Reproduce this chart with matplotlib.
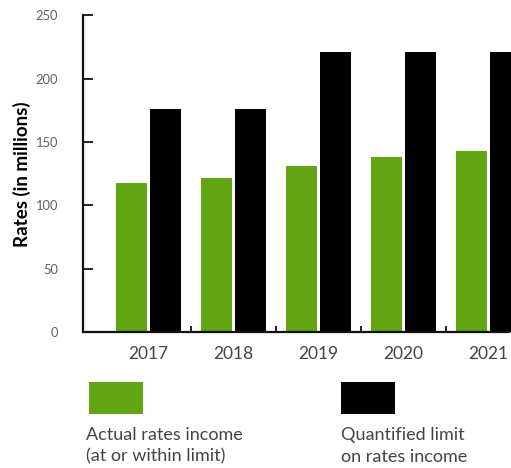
import matplotlib
matplotlib.use("Agg")
import matplotlib.pyplot as plt
from matplotlib.patches import Rectangle
import numpy as np

years = ["2017", "2018", "2019", "2020", "2021"]
actual = [118, 122, 131, 138, 143]
limit = [176, 176, 221, 221, 221]
series_labels = ["Actual rates income\n(at or within limit)", "Quantified limit\non rates income"]
yticks = [0, 50, 100, 150, 200, 250]

GREEN = "#62A512"
BLACK = "#000000"
GREY = "#606060"

plt.rcParams['font.family'] = ['Lato', 'DejaVu Sans']

W, H = 511, 468
fig = plt.figure(figsize=(W / 100, H / 100), dpi=100)
ax = fig.add_axes([83 / W, (H - 332) / H, 426 / W, 316.5 / H])

x = np.arange(len(years))
bw = 0.365
ax.bar(x - 0.2, actual, bw, color=GREEN, clip_on=False)
ax.bar(x + 0.2, limit, bw, color=BLACK, clip_on=False)

ax.set_xlim(-0.77, 4.242)
ax.set_ylim(0, 250)

for s in ["top", "right"]:
    ax.spines[s].set_visible(False)
for s in ["left", "bottom"]:
    ax.spines[s].set_linewidth(1.6)
    ax.spines[s].set_color("#111111")

ax.set_yticks(yticks)
ax.set_yticklabels([str(v) for v in yticks])
ax.tick_params(axis="y", direction="in", length=7, width=1.3, pad=18,
               labelsize=9.3, labelcolor=GREY, colors="#111111")
for t in ax.get_yticklabels():
    t.set_color(GREY)

ax.set_xticks(x)
ax.set_xticklabels(years)
ax.set_xticks(np.arange(0.5, 4, 1), minor=True)
ax.tick_params(axis="x", which="major", length=0, pad=10, labelsize=12.5, labelcolor="#444444")
ax.tick_params(axis="x", which="minor", direction="in", length=4.5, width=1.3, colors="#111111")
for t in ax.get_xticklabels():
    t.set_color("#444444")

fig.text(22 / W, 1 - 174 / H, "Rates (in millions)", rotation=90, ha="center", va="center",
         fontsize=13.5, fontweight="bold", color="black")

# legend
fig.patches.append(Rectangle((89 / W, 1 - 414 / H), 54 / W, 32 / H, transform=fig.transFigure,
                             facecolor=GREEN, edgecolor="none"))
fig.patches.append(Rectangle((341 / W, 1 - 414 / H), 54 / W, 32 / H, transform=fig.transFigure,
                             facecolor=BLACK, edgecolor="none"))
fig.text(86 / W, 1 - 446 / H, series_labels[0], ha="left", va="center", fontsize=13,
         color="#444444", linespacing=1.4)
fig.text(341 / W, 1 - 446 / H, series_labels[1], ha="left", va="center", fontsize=13,
         color="#444444", linespacing=1.4)

fig.savefig("out.png", dpi=100)
